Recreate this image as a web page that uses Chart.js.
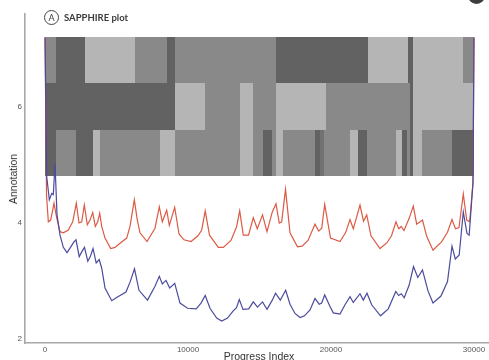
<!DOCTYPE html>
<html>
<head>
<meta charset="utf-8">
<script src="https://cdn.jsdelivr.net/npm/chart.js@4.4.0/dist/chart.umd.min.js"></script>
<style>
  html, body { margin: 0; padding: 0; background: #ffffff; }
  #wrap { position: relative; width: 489px; height: 360px; overflow: hidden; background: #fff; }
  #c { position: absolute; left: 0; top: 0; }
  .lbl { position: absolute; font-family: "Liberation Sans", Arial, sans-serif; color: #333; white-space: nowrap; }
  #ttl { position: absolute; left: 44px; top: 9px; height: 16px; display: flex; align-items: center; font-family: Lato, "Open Sans", sans-serif; font-size: 9.5px; font-weight: 700; color: #3a3a3a; }
  #ttl .circ { width: 15px; height: 15px; border: 1.2px solid #444; border-radius: 50%; display: inline-flex; align-items: center; justify-content: center; font-size: 9px; font-weight: 400; margin-right: 5px; box-sizing: border-box; }
  #nextpanel { position: absolute; left: 468px; top: -13px; width: 17px; height: 17px; border-radius: 50%; background: #3d3d3d; }
</style>
</head>
<body>
<div id="wrap">
  <canvas id="c" width="489" height="360"></canvas>
  <div id="ttl"><span class="circ">A</span><span>SAPPHIRE plot</span></div>
  <div id="nextpanel"></div>
  <div class="lbl" id="ylab" style="left:12.5px; top:179px; font-size:10.5px; transform: translate(-50%,-50%) rotate(-90deg);">Annotation</div>
  <div class="lbl" id="xlab" style="left:259px; top:356px; font-size:10.5px; transform: translate(-50%,-50%);">Progress Index</div>
</div>
<script>
// ---- data ----
const xTicks = [0, 10000, 20000, 30000];
const yTicks = [2, 4, 6];

const redIdx = [0, 105, 231, 399, 629, 818, 1049, 1280, 1629, 1937, 2189, 2378, 2566, 2748, 2958, 3147, 3336, 3517, 3685, 3825, 3965, 4196, 4594, 4895, 5245, 5713, 5944, 6245, 6455, 6643, 7133, 7692, 7993, 8203, 8510, 8692, 9070, 9371, 9720, 10210, 10699, 10958, 11203, 11503, 12119, 12468, 13007, 13392, 13615, 13867, 14231, 14566, 14846, 15210, 15524, 15895, 16154, 16384, 16552, 16818, 17133, 17657, 17972, 18392, 18881, 19140, 19350, 19560, 19965, 20629, 21014, 21329, 21560, 22028, 22273, 22497, 22797, 23427, 23916, 24231, 24545, 24734, 24916, 25105, 25468, 25755, 25993, 26399, 26693, 27133, 27742, 28147, 28462, 28707, 28951, 29252, 29490, 29699, 29930, 30000];
const redVal = [7.2, 4.48, 4.02, 4.05, 4.34, 4.09, 3.85, 3.83, 3.88, 4.02, 4.34, 4.00, 4.02, 4.31, 3.97, 4.05, 4.18, 3.94, 4.02, 4.17, 3.94, 3.74, 3.56, 3.58, 3.65, 3.74, 3.94, 4.40, 4.05, 3.83, 3.68, 3.91, 4.28, 4.02, 4.22, 3.96, 4.27, 3.81, 3.71, 3.68, 3.78, 3.88, 4.21, 3.79, 3.58, 3.58, 3.70, 3.93, 4.21, 3.79, 3.79, 4.09, 3.90, 4.14, 3.85, 4.19, 4.33, 4.00, 4.02, 4.58, 3.83, 3.59, 3.60, 3.70, 3.98, 3.86, 3.91, 4.32, 3.74, 3.68, 3.83, 4.06, 3.90, 4.31, 4.03, 4.14, 3.78, 3.56, 3.66, 3.78, 4.02, 3.90, 3.94, 3.87, 4.08, 4.29, 3.98, 4.05, 3.77, 3.53, 3.68, 3.84, 4.06, 3.90, 3.92, 4.50, 4.05, 4.02, 4.70, 7.2];

const blueIdx = [0, 119, 301, 469, 580, 699, 839, 1049, 1280, 1538, 1783, 2007, 2168, 2392, 2587, 2762, 2993, 3182, 3357, 3580, 3790, 3965, 4196, 4664, 5035, 5664, 5944, 6259, 6573, 7168, 7692, 7993, 8203, 8462, 8720, 9070, 9441, 9965, 10573, 10909, 11203, 11538, 12007, 12356, 12762, 13147, 13392, 13587, 13846, 14245, 14566, 14860, 15210, 15524, 15895, 16119, 16454, 16832, 17133, 17483, 17832, 18147, 18531, 18881, 19175, 19350, 19560, 19930, 20161, 20629, 20979, 21329, 21560, 22028, 22259, 22517, 22846, 23462, 24007, 24531, 24734, 24916, 25119, 25468, 25769, 26070, 26399, 26783, 27133, 27692, 28147, 28462, 28693, 28965, 29252, 29511, 29664, 29930, 30000];
const blueVal = [7.2, 4.80, 4.40, 4.51, 4.49, 5.02, 4.14, 3.79, 3.58, 3.49, 3.58, 3.67, 3.71, 3.42, 3.51, 3.58, 3.34, 3.43, 3.56, 3.31, 3.37, 3.22, 2.88, 2.66, 2.72, 2.81, 2.98, 3.21, 2.84, 2.67, 2.91, 3.08, 2.95, 3.01, 2.88, 2.96, 2.62, 2.53, 2.52, 2.62, 2.75, 2.53, 2.36, 2.31, 2.36, 2.48, 2.54, 2.68, 2.51, 2.52, 2.64, 2.55, 2.64, 2.51, 2.67, 2.79, 2.67, 2.84, 2.60, 2.44, 2.37, 2.40, 2.50, 2.70, 2.60, 2.62, 2.76, 2.56, 2.45, 2.43, 2.59, 2.73, 2.63, 2.78, 2.67, 2.79, 2.59, 2.40, 2.52, 2.82, 2.75, 2.78, 2.71, 2.93, 3.25, 3.06, 3.19, 2.83, 2.62, 2.74, 2.99, 3.60, 3.38, 3.45, 4.19, 3.82, 3.79, 4.69, 7.2];

// annotation bands (value ranges of the three rows, bottom to top)
const bandLimits = [4.81, 5.61, 6.41, 7.21];
// segment boundaries (progress index) and annotation level per segment
const botEdges = [0, 770, 2170, 3360, 3850, 8040, 9090, 13640, 14550, 15240, 15850, 16150, 16660, 18880, 19230, 19510, 21330, 21890, 22490, 24520, 24940, 25290, 25520, 25730, 26340, 28440, 30000];
const botLevels = [1, 2, 1, 3, 2, 3, 2, 3, 2, 1, 2, 3, 2, 1, 4, 2, 3, 1, 2, 3, 1, 2, 1, 3, 2, 1];
const midEdges = [0, 9090, 11190, 13640, 14550, 16150, 19650, 25520, 25730, 30000];
const midLevels = [1, 3, 2, 3, 2, 3, 2, 1, 3];
const topEdges = [0, 770, 2800, 6290, 8510, 9090, 16150, 22590, 25380, 25730, 29230, 30000];
const topLevels = [2, 1, 3, 2, 1, 2, 1, 3, 1, 3, 2];

// ---- styles ----
const levelColors = { 1: '#626262', 2: '#898989', 3: '#b5b5b5', 4: '#727272' };
const rows = [
  { edges: botEdges, levels: botLevels },
  { edges: midEdges, levels: midLevels },
  { edges: topEdges, levels: topLevels }
];

const heatPlugin = {
  id: 'heat',
  beforeDatasetsDraw(chart) {
    const { ctx, scales: { x, y } } = chart;
    ctx.save();
    rows.forEach((row, r) => {
      const yb = Math.round(y.getPixelForValue(bandLimits[r]));
      const yt = Math.round(y.getPixelForValue(bandLimits[r + 1]));
      for (let i = 0; i < row.levels.length; i++) {
        const x0 = Math.round(x.getPixelForValue(row.edges[i]));
        const x1 = Math.round(x.getPixelForValue(row.edges[i + 1]));
        ctx.fillStyle = levelColors[row.levels[i]];
        ctx.fillRect(x0, yt, x1 - x0, yb - yt);
      }
    });
    ctx.restore();
  }
};

const toPts = (xs, ys) => xs.map((v, i) => ({ x: v, y: ys[i] }));

Chart.defaults.font.family = '"Liberation Sans", Arial, sans-serif';

new Chart(document.getElementById('c'), {
  type: 'line',
  data: {
    datasets: [
      { label: 'blue', data: toPts(blueIdx, blueVal), borderColor: '#4b4b9e', borderWidth: 1.2, pointRadius: 0, tension: 0, fill: false },
      { label: 'red', data: toPts(redIdx, redVal), borderColor: '#dc5a44', borderWidth: 1.2, pointRadius: 0, tension: 0, fill: false }
    ]
  },
  options: {
    responsive: false,
    animation: false,
    events: [],
    layout: { padding: { top: 14, left: 0, right: 0, bottom: 0 } },
    plugins: { legend: { display: false }, tooltip: { enabled: false }, title: { display: false } },
    scales: {
      x: {
        type: 'linear', min: -1400, max: 31050,
        grid: { display: false, drawTicks: false },
        border: { display: true, color: '#a8a8a8', width: 1.6 },
        ticks: { font: { size: 8 }, color: '#555', padding: 2, maxRotation: 0, callback: v => String(v) },
        afterBuildTicks: s => { s.ticks = xTicks.map(v => ({ value: v })); },
        afterFit: s => { s.height = 17; }
      },
      y: {
        type: 'linear', min: 1.931, max: 7.603,
        grid: { display: false, drawTicks: false },
        border: { display: true, color: '#a8a8a8', width: 1.6 },
        ticks: { font: { size: 8 }, color: '#555', padding: 3, callback: v => String(v) },
        afterBuildTicks: s => { s.ticks = yTicks.map(v => ({ value: v })); },
        afterFit: s => { s.width = 25; }
      }
    }
  },
  plugins: [heatPlugin]
});
</script>
</body>
</html>
